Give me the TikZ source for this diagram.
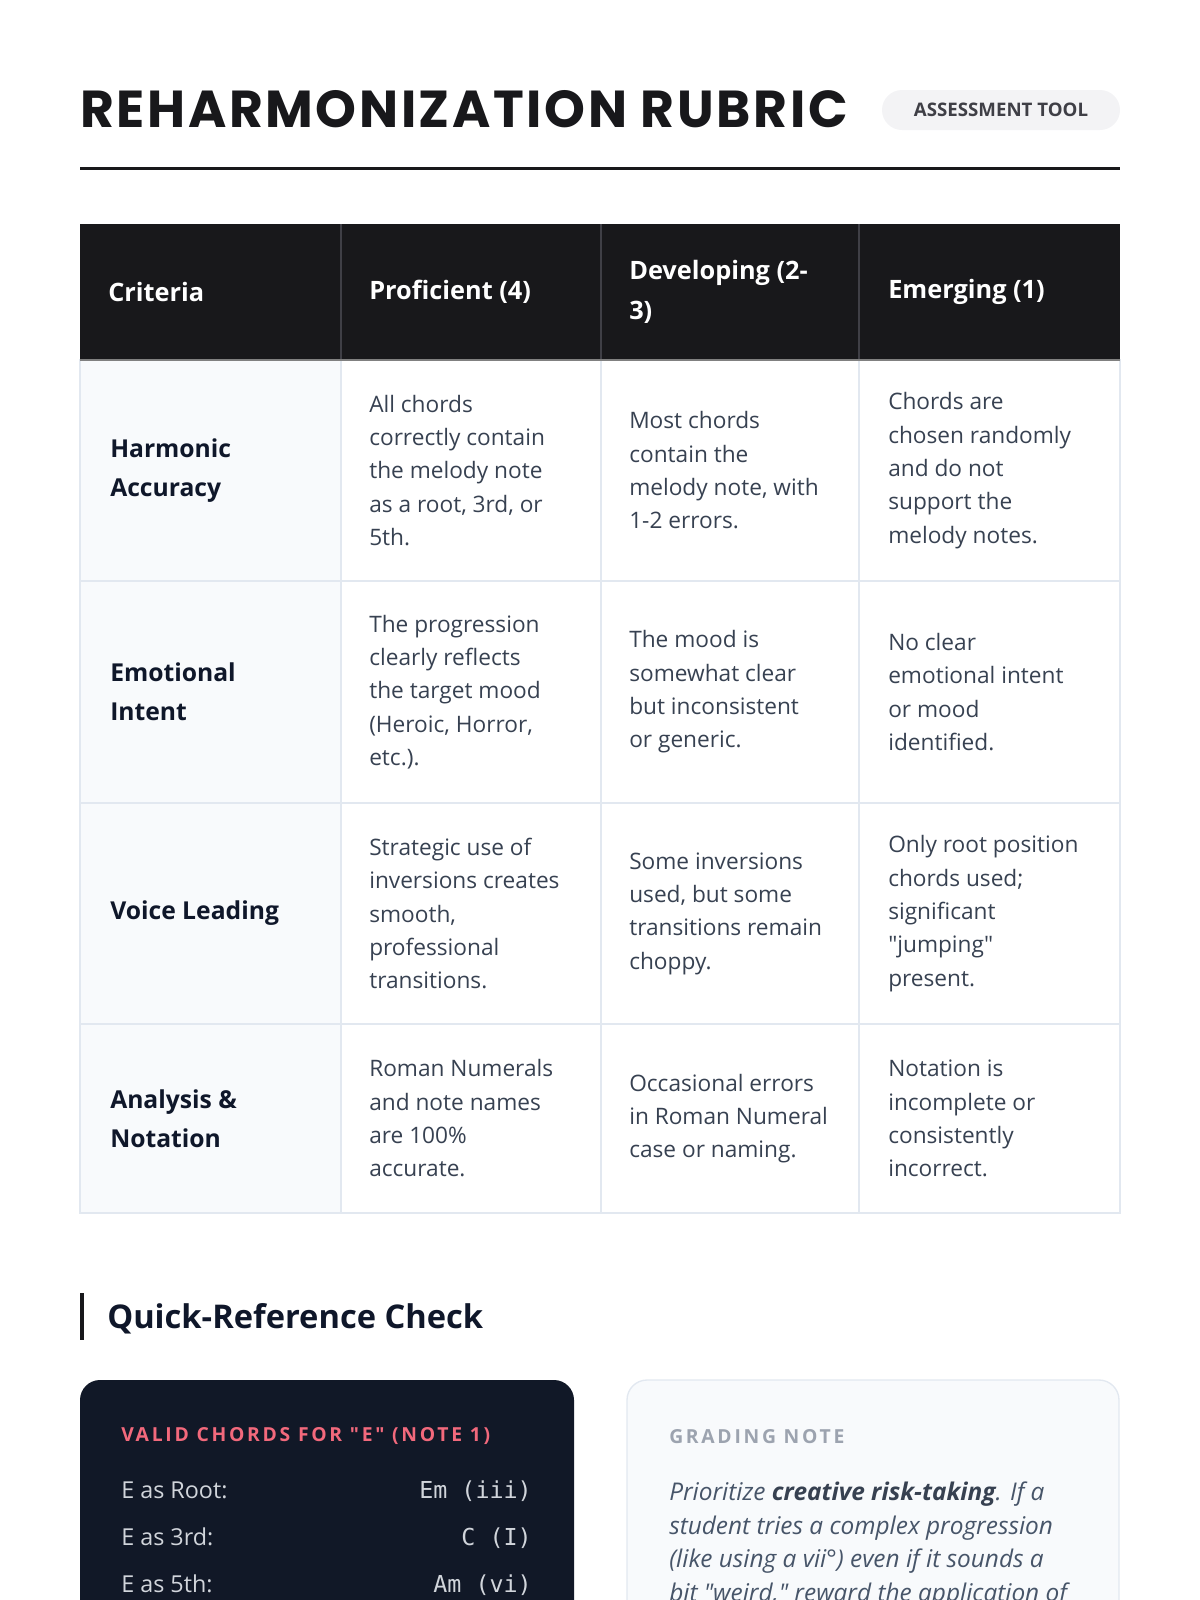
\documentclass[tikz,border=0pt]{standalone}
\usepackage{fontspec}
\setmainfont{Open Sans}[Ligatures=TeXOff]
\setmonofont{DejaVu Sans Mono}
\newfontfamily\titlefont{Poppins}
\usetikzlibrary{positioning}

\definecolor{ink}{HTML}{18181B}
\definecolor{navy}{HTML}{111827}
\definecolor{deep}{HTML}{0F172A}
\definecolor{slate}{HTML}{374151}
\definecolor{note}{HTML}{475569}
\definecolor{grid}{HTML}{E2E8F0}
\definecolor{pale}{HTML}{F8FAFC}
\definecolor{pillgray}{HTML}{F3F3F5}
\definecolor{pilltext}{HTML}{3F3F46}
\definecolor{headline}{HTML}{3F3F46}
\definecolor{rose}{HTML}{F2697C}
\definecolor{mist}{HTML}{9CA3AF}
\definecolor{chordtext}{HTML}{D1D5DB}

\begin{document}
\begin{tikzpicture}[x=0.75pt,y=-0.75pt,inner sep=0pt,
  head/.style={anchor=west,align=left,text=white,font=\fontsize{19}{30}\selectfont\bfseries},
  crit/.style={anchor=west,align=left,text=deep,font=\fontsize{18.5}{29.5}\selectfont\bfseries},
  cell/.style={anchor=west,align=left,text=slate,font=\fontsize{17}{25}\selectfont},
  tag/.style={anchor=base west,font=\fontsize{14.5}{16}\selectfont\bfseries\addfontfeatures{LetterSpace=14}},
  chordlbl/.style={anchor=base west,text=chordtext,font=\fontsize{17.5}{20}\selectfont},
  chordval/.style={anchor=base east,text=chordtext,font=\fontsize{17.5}{20}\ttfamily}]
  \useasboundingbox (0,0) rectangle (1200,1600);
  \clip (0,0) rectangle (1200,1600);

  % title
  \node[anchor=base west,font=\titlefont\bfseries\fontsize{39}{42}\selectfont\addfontfeatures{LetterSpace=5},text=ink] (title) at (80,127) {REHARMONIZATION RUBRIC};
  \node[fill=pillgray,rounded corners=15pt,minimum width=178.5pt,minimum height=30pt,
        text=pilltext,font=\fontsize{14}{16}\selectfont\bfseries] (badge) at (1001,110) {ASSESSMENT TOOL};
  \draw[ink,line width=2.25pt] (80,168) -- (1120,168);

  % table
  \fill[pale] (80,360) rectangle (341,1213);
  \foreach \y in {581,803,1024} \draw[grid,line width=1.1pt] (80,\y) -- (1120,\y);
  \foreach \x in {341,601,859} \draw[grid,line width=1.1pt] (\x,360) -- (\x,1213);
  \draw[grid,line width=1.5pt] (80,360) rectangle (1120,1213);
  \fill[ink] (80,224) rectangle (1120,360);
  \foreach \x in {341,601,859} \draw[headline,line width=1pt] (\x,224) -- (\x,360);
  \draw[gray,line width=1.5pt] (80,360) -- (1120,360);

  \node[head] (hcrit) at (108,292) {Criteria};
  \node[head] (hprof) at (369,292) {Proficient (4)};
  \node[head] (hdev)  at (629,292) {Developing (2-\\3)};
  \node[head] (hemer) at (888,292) {Emerging (1)};

  \node[crit] (crit1) at (110,470.5) {Harmonic\\Accuracy};
  \node[cell] (prof1) at (369,470.5) {All chords\\correctly contain\\the melody note\\as a root, 3rd, or\\5th.};
  \node[cell] (dev1)  at (629,470.5) {Most chords\\contain the\\melody note, with\\1-2 errors.};
  \node[cell] (emer1) at (888,470.5) {Chords are\\chosen randomly\\and do not\\support the\\melody notes.};

  \node[crit] (crit2) at (110,692) {Emotional\\Intent};
  \node[cell] (prof2) at (369,692) {The progression\\clearly reflects\\the target mood\\(Heroic, Horror,\\etc.).};
  \node[cell] (dev2)  at (629,692) {The mood is\\somewhat clear\\but inconsistent\\or generic.};
  \node[cell] (emer2) at (888,692) {No clear\\emotional intent\\or mood\\identified.};

  \node[crit] (crit3) at (110,913.5) {Voice Leading};
  \node[cell] (prof3) at (369,913.5) {Strategic use of\\inversions creates\\smooth,\\professional\\transitions.};
  \node[cell] (dev3)  at (629,913.5) {Some inversions\\used, but some\\transitions remain\\choppy.};
  \node[cell] (emer3) at (888,913.5) {Only root position\\chords used;\\significant\\"jumping"\\present.};

  \node[crit] (crit4) at (110,1118.5) {Analysis \&\\Notation};
  \node[cell] (prof4) at (369,1118.5) {Roman Numerals\\and note names\\are 100\%\\accurate.};
  \node[cell] (dev4)  at (629,1118.5) {Occasional errors\\in Roman Numeral\\case or naming.};
  \node[cell] (emer4) at (888,1118.5) {Notation is\\incomplete or\\consistently\\incorrect.};

  % quick reference
  \fill[ink] (80,1293) rectangle (84,1340);
  \node[anchor=base west,text=deep,font=\fontsize{24.5}{26}\selectfont\bfseries] (qref) at (107,1328) {Quick-Reference Check};

  \fill[navy,rounded corners=15pt] (80,1380) rectangle (574,1680);
  \node[tag,text=rose] (validtag) at (121,1441) {VALID CHORDS FOR "E" (NOTE 1)};
  \foreach \lbl/\val/\y/\n in {Root/Em (iii)/1498/root,3rd/C (I)/1545/third,5th/Am (vi)/1592/fifth}{
    \node[chordlbl] (\n) at (121,\y) {E as \lbl:};
    \node[chordval] (\n val) at (532,\y) {\val};
  }

  \draw[grid,fill=pale,line width=1pt,rounded corners=15pt] (627,1380) rectangle (1119,1680);
  \node[tag,text=mist] (gradetag) at (669,1443) {GRADING NOTE};
  \node[anchor=base west,align=left,text=note,font=\fontsize{18.3}{25.1}\selectfont\itshape] (gradenote) at (669,1601)
    {Prioritize \textcolor{slate}{\textbf{creative risk-taking}}. If a\\student tries a complex progression\\(like using a vii°) even if it sounds a\\bit "weird," reward the application of};
\end{tikzpicture}
\end{document}
